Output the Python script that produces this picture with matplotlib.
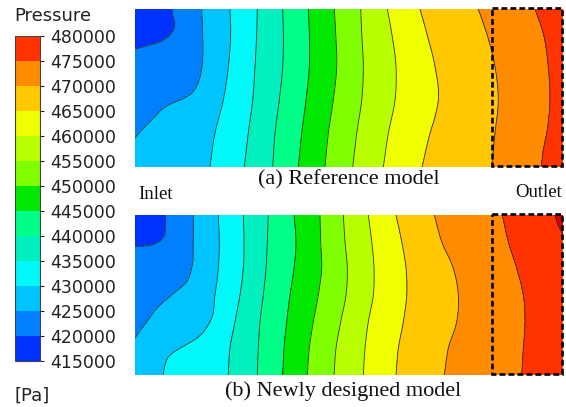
import matplotlib
matplotlib.use('Agg')
import matplotlib.pyplot as plt
import numpy as np
from matplotlib.colors import ListedColormap, BoundaryNorm
from matplotlib.patches import Rectangle
import matplotlib.cm as cm

# pressure bands of the legend [Pa]
levels = np.arange(415000, 480001, 5000)
band_colors = ['#0032ff', '#0080ff', '#00c4ff', '#00f8f8', '#00f0c0', '#00ff88', '#00e800',
               '#80ff00', '#b8ff00', '#f0ff00', '#ffc800', '#ff8c00', '#ff3200']
over_color = '#e00000'

# channel size (domain units, x from inlet, y from top wall)
W = 428.5
H_a = 158.0
H_b = 160.0

# isolines of the reference model: level -> (y samples, x of the isoline)
rows_a = [0, 24.3, 57.7, 91, 124.3, 158]
lines_a = {
    420000: ([0, 24, 30, 33, 36, 39, 40], [37.8, 37.2, 31, 25, 15, 4, 0]),
    425000: ([0, 24, 58, 70, 80, 86, 90, 95, 100, 108, 118, 129],
             [67.2, 68.2, 67.5, 65, 60.5, 55, 48, 36, 28, 20, 10, 0]),
    430000: (rows_a, [95.5, 96.2, 93.8, 88.8, 80.5, 75.5]),
    435000: (rows_a, [122.8, 122.2, 120.5, 118.2, 113.8, 109.8]),
    440000: (rows_a, [148.2, 148.8, 148.2, 144.8, 140.5, 138.2]),
    445000: (rows_a, [173.8, 174.8, 174.8, 171.5, 167.2, 163.8]),
    450000: (rows_a, [199.8, 201.2, 202.2, 198.8, 193.8, 190.5]),
    455000: (rows_a, [226.2, 227.2, 228.8, 227.2, 222.2, 218.2]),
    460000: (rows_a, [252.8, 257.2, 261.5, 260.5, 253.8, 248.8]),
    465000: ([0, 24.3, 57.7, 91, 107.7, 124.3, 158], [285.5, 292.2, 300.5, 303.8, 300.5, 295.5, 287.5]),
    470000: (rows_a, [343.8, 352.2, 360.5, 363.8, 360.5, 357.2]),
    475000: ([0, 24.3, 57.7, 91, 124.3, 141, 158], [400.5, 408.8, 413.8, 415.5, 412.2, 408.8, 406.8]),
}

# isolines of the newly designed model
rows_b = [0, 26.7, 53.3, 80, 106.7, 133.3, 160]
lines_b = {
    420000: ([0, 13, 23, 27, 29.5, 31, 31.5], [31.2, 30.8, 28.5, 24, 18, 10, 0]),
    425000: ([0, 26.7, 53.3, 66.7, 80, 90, 106.7, 123.3], [58.8, 58.8, 57.2, 52.2, 37.2, 25.5, 12.2, 0]),
    430000: ([0, 26.7, 53.3, 80, 106.7, 123.3, 133.3, 140, 150, 160],
             [83.8, 84.8, 83.8, 80.5, 75.5, 62.2, 45.5, 35.5, 30.5, 28.8]),
    435000: (rows_b, [108.8, 109.5, 108.8, 105.5, 100.5, 95.5, 93.8]),
    440000: (rows_b, [133.8, 132.8, 131.5, 128.8, 125.5, 123.8, 122.8]),
    445000: (rows_b, [159.5, 161.5, 159.5, 155.5, 152.2, 149.5, 148.2]),
    450000: (rows_b, [185.5, 186.2, 187.2, 183.8, 178.8, 174.8, 172.8]),
    455000: (rows_b, [208.8, 210.5, 212.8, 211.5, 206.2, 201.5, 199.5]),
    460000: (rows_b, [233.8, 237.2, 239.5, 238.8, 233.8, 230.5, 228.8]),
    465000: (rows_b, [261.5, 267.2, 271.5, 272.2, 268.8, 263.8, 261.5]),
    470000: (rows_b, [299.8, 307.2, 318.8, 323.8, 322.2, 313.8, 309.8]),
    475000: (rows_b, [367.8, 373.8, 382.2, 388.8, 390.5, 388.8, 387.2]),
    480000: ([0, 10, 20], [420.5, 423.8, 429.5]),
}

# outlet zone marked with the dashed box
outlet_x = (358.0, 427.5)


def curve_x(y, ly, lx):
    # smooth (cubic Hermite) x of an isoline at height y
    ly = np.asarray(ly, float)
    lx = np.asarray(lx, float)
    m = np.gradient(lx, ly)
    i = int(np.clip(np.searchsorted(ly, y) - 1, 0, len(ly) - 2))
    h = ly[i + 1] - ly[i]
    t = (y - ly[i]) / h
    return ((2 * t**3 - 3 * t**2 + 1) * lx[i] + (t**3 - 2 * t**2 + t) * h * m[i]
            + (-2 * t**3 + 3 * t**2) * lx[i + 1] + (t**3 - t**2) * h * m[i + 1])


def build_field(lines, width, height, nx=800, ny=320):
    xs = np.linspace(0, width, nx)
    ys = np.linspace(0, height, ny)
    Z = np.empty((ny, nx))
    for j, y in enumerate(ys):
        pts = []
        for lev in sorted(lines):
            ly, lx = lines[lev]
            if ly[0] <= y <= ly[-1]:
                c = curve_x(y, ly, lx)
                if 0 < c < width:
                    pts.append((c, lev))
        px = [0] + [p[0] for p in pts] + [width]
        pv = [pts[0][1] - 2500] + [p[1] for p in pts] + [pts[-1][1] + 2500]
        Z[j] = np.interp(xs, px, pv)
    return xs, ys, Z


cmap = ListedColormap(band_colors)
cmap.set_over(over_color)
norm = BoundaryNorm(levels, cmap.N)

FW, FH = 566, 407
fig = plt.figure(figsize=(FW / 100, FH / 100), dpi=100)


def addax(L, T, w, h):
    return fig.add_axes([L / FW, 1 - (T + h) / FH, w / FW, h / FH])


def panel(ax, lines, height):
    xs, ys, Z = build_field(lines, W, height)
    ax.contourf(xs, ys, Z, levels=levels, cmap=cmap, norm=norm, extend='max')
    ax.contour(xs, ys, Z, levels=levels, colors='#303030', linewidths=0.6)
    ax.add_patch(Rectangle((outlet_x[0], -1), outlet_x[1] - outlet_x[0], height,
                           fill=False, ec='black', lw=1.9, ls=(0, (2.2, 1.2)), clip_on=False, zorder=5))
    ax.set_xlim(0, W)
    ax.set_ylim(height, 0)
    ax.axis('off')


ax_a = addax(134.5, 9, W, H_a)
panel(ax_a, lines_a, H_a)
ax_b = addax(134.5, 215, W, H_b)
panel(ax_b, lines_b, H_b)

cax = addax(15, 36, 25, 324.5)
cb = fig.colorbar(cm.ScalarMappable(norm=norm, cmap=cmap), cax=cax, ticks=levels, extend='neither')
cb.set_ticklabels([str(v) for v in levels])
cb.outline.set_linewidth(0.8)
cb.outline.set_edgecolor('#444444')
cax.tick_params(length=3, width=0.8, pad=4.5, labelsize=12.5, colors='#222222')
for t in cax.get_yticklabels():
    t.set_family('DejaVu Sans')

sans = dict(family='DejaVu Sans', color='#222222', va='baseline')
serif = dict(family='Liberation Serif', color='#111111', va='baseline')
fig.text(14 / FW, 1 - 21 / FH, 'Pressure', fontsize=13, **sans)
fig.text(15 / FW, 1 - 401 / FH, '[Pa]', fontsize=13, **sans)
fig.text(349 / FW, 1 - 184 / FH, '(a) Reference model', fontsize=16, ha='center', **serif)
fig.text(138 / FW, 1 - 199 / FH, 'Inlet', fontsize=13.5, ha='left', **serif)
fig.text(562 / FW, 1 - 197 / FH, 'Outlet', fontsize=13.5, ha='right', **serif)
fig.text(343 / FW, 1 - 396 / FH, '(b) Newly designed model', fontsize=16, ha='center', **serif)

fig.savefig('out.png', dpi=100)
